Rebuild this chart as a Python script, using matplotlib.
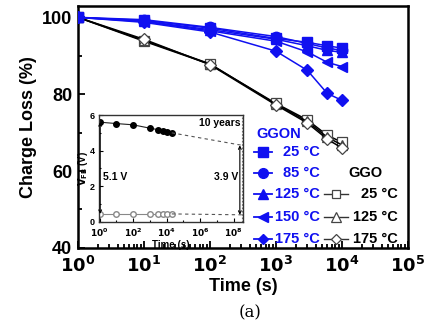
import numpy as np
import matplotlib
matplotlib.use("Agg")
import matplotlib.pyplot as plt
from matplotlib.ticker import LogLocator, MultipleLocator, NullFormatter, FixedLocator

plt.rcParams['font.family'] = ['Liberation Sans', 'DejaVu Sans']

# Retention data: charge remaining vs. bake time
time_s = [1, 10, 100, 1000, 3000, 6000, 10000]

ggon_labels = ['25 °C', '85 °C', '125 °C', '150 °C', '175 °C']
ggon_25 = [100, 99.2, 97.2, 94.5, 93.5, 92.6, 92.0]
ggon_85 = [100, 99.4, 97.4, 95.0, 93.2, 92.0, 91.4]
ggon_125 = [100, 99.0, 96.8, 94.3, 92.6, 91.4, 90.9]
ggon_150 = [100, 98.9, 96.5, 93.8, 91.0, 88.3, 87.2]
ggon_175 = [100, 98.7, 96.2, 91.2, 86.2, 80.2, 78.4]

ggo_labels = ['25 °C', '125 °C', '175 °C']
ggo_25 = [100, 93.8, 87.8, 77.6, 73.3, 69.3, 67.5]
ggo_125 = [100, 94.0, 87.9, 77.4, 72.9, 68.8, 66.8]
ggo_175 = [100, 94.3, 87.7, 77.2, 72.5, 68.3, 66.0]

# Inset: flat-band voltage of programmed / erased states
inset_t = [1, 10, 100, 1000, 3000, 6000, 10000, 20000]
vfb_prog = [5.6, 5.52, 5.45, 5.26, 5.18, 5.11, 5.06, 5.0]
vfb_erase = [0.45, 0.45, 0.45, 0.45, 0.45, 0.45, 0.45, 0.45]
ten_years = 3.15e8
vfb_prog_10y = 4.3
vfb_erase_10y = 0.4

BLUE = '#1010f0'
KEY_FS = 10.5

fig = plt.figure(figsize=(4.28, 3.24), dpi=100)
ax = fig.add_axes([0.182, 0.235, 0.771, 0.747])

ggon_series = [ggon_25, ggon_85, ggon_125, ggon_150, ggon_175]
ggon_markers = ['s', 'o', '^', '<', 'D']
ggon_ms = [7, 7.5, 7.5, 7.5, 6]
for ys, m, ms in zip(ggon_series, ggon_markers, ggon_ms):
    ax.plot(time_s, ys, color=BLUE, marker=m, ms=ms, lw=1.1,
            mfc=BLUE, mec=BLUE, zorder=3)

ggo_series = [ggo_25, ggo_125, ggo_175]
ggo_markers = ['s', '^', 'D']
ggo_ms = [6.5, 7, 6]
for ys, m, ms in zip(ggo_series, ggo_markers, ggo_ms):
    ax.plot(time_s, ys, color='black', marker=m, ms=ms, lw=1.1,
            mfc='white', mec='#444444', mew=0.9, zorder=2)

ax.set_xscale('log')
ax.set_xlim(1, 1e5)
ax.set_ylim(40, 103)
ax.yaxis.set_major_locator(FixedLocator([40, 60, 80, 100]))
ax.yaxis.set_minor_locator(MultipleLocator(10))
ax.xaxis.set_major_locator(FixedLocator([1, 10, 100, 1000, 1e4, 1e5]))
ax.xaxis.set_minor_locator(LogLocator(base=10, subs=np.arange(2, 10), numticks=20))
ax.xaxis.set_minor_formatter(NullFormatter())
ax.set_xticklabels([r'$\mathbf{10^{%d}}$' % k for k in range(6)])
ax.set_yticklabels(['40', '60', '80', '100'])
ax.tick_params(which='both', direction='in', labelsize=13, width=1.3)
ax.tick_params(which='major', length=5)
ax.tick_params(axis='x', which='major', pad=6)
ax.tick_params(axis='y', which='major', pad=4)
ax.tick_params(which='minor', length=3)
for lab in ax.get_yticklabels() + ax.get_xticklabels():
    lab.set_fontweight('bold')
for sp in ax.spines.values():
    sp.set_linewidth(1.8)

ax.set_xlabel('Time (s)', fontsize=13, fontweight='bold', labelpad=1)
ax.set_ylabel('Charge Loss (%)', fontsize=13, fontweight='bold', labelpad=4)
fig.text(0.585, 0.02, '(a)', fontsize=12, family='DejaVu Serif', ha='center')

# Legend-style key drawn inside the axes
fig.text(0.598, 0.585, 'GGON', color=BLUE, fontsize=KEY_FS, fontweight='bold',
         ha='left', va='center')
row_y = [0.530, 0.466, 0.401, 0.331, 0.263]
hx0, hx1 = 0.594, 0.636
for lab, m, ms, yy in zip(ggon_labels, ggon_markers, ggon_ms, row_y):
    fig.add_artist(plt.Line2D([hx0, hx1], [yy, yy], color=BLUE, lw=1.3,
                              transform=fig.transFigure))
    fig.add_artist(plt.Line2D([(hx0 + hx1) / 2], [yy], color=BLUE, marker=m,
                              ms=ms - 0.5, transform=fig.transFigure))
    fig.text(0.748, yy, lab, color=BLUE, fontsize=KEY_FS, fontweight='bold',
             ha='right', va='center')

fig.text(0.813, 0.466, 'GGO', color='black', fontsize=KEY_FS, fontweight='bold',
         ha='left', va='center')
gx0, gx1 = 0.758, 0.812
for lab, m, ms, yy in zip(ggo_labels, ggo_markers, ggo_ms, row_y[2:]):
    fig.add_artist(plt.Line2D([gx0, gx1], [yy, yy], color='#333333', lw=1.0,
                              transform=fig.transFigure))
    fig.add_artist(plt.Line2D([(gx0 + gx1) / 2], [yy], color='#333333', marker=m,
                              ms=ms - 0.5, mfc='white', mec='#444444', mew=0.9,
                              transform=fig.transFigure))
    fig.text(0.930, yy, lab, color='black', fontsize=KEY_FS, fontweight='bold',
             ha='right', va='center')

# Inset: VFB retention extrapolated to ten years
ins = fig.add_axes([0.231, 0.315, 0.337, 0.330])
ins.plot(inset_t, vfb_prog, color='#222222', marker='o', ms=4, lw=0.8,
         mfc='black', mec='black')
ins.plot(inset_t, vfb_erase, color='#888888', marker='o', ms=4, lw=0.8,
         mfc='white', mec='#888888')
ins.plot([inset_t[-1], ten_years], [vfb_prog[-1], vfb_prog_10y],
         ls=(0, (3, 3)), color='#555555', lw=0.8)
ins.plot([inset_t[-1], ten_years], [vfb_erase[-1], vfb_erase_10y],
         ls=(0, (3, 3)), color='#555555', lw=0.8)
ins.plot([ten_years, ten_years], [0, 6], ls=(0, (1.5, 1.5)), color='#777777', lw=0.8)
ins.annotate('', xy=(1.08, vfb_prog[0]), xytext=(1.08, vfb_erase[0]),
             arrowprops=dict(arrowstyle='<->', lw=0.8, color='black',
                             shrinkA=0, shrinkB=0, mutation_scale=5))
ins.annotate('', xy=(2.3e8, vfb_prog_10y), xytext=(2.3e8, vfb_erase_10y),
             arrowprops=dict(arrowstyle='<->', lw=0.8, color='black',
                             shrinkA=0, shrinkB=0, mutation_scale=5))
ins.text(1.6, 2.5, '5.1 V', fontsize=7.5, fontweight='bold', va='center')
ins.text(1.8e8, 2.5, '3.9 V', fontsize=7.5, fontweight='bold', va='center', ha='right')
ins.text(2.6e8, 5.55, '10 years', fontsize=7.5, fontweight='bold', va='center', ha='right')

ins.set_xscale('log')
ins.set_xlim(0.9, 3.6e8)
ins.set_ylim(0, 6)
ins.xaxis.set_major_locator(FixedLocator([1, 1e2, 1e4, 1e6, 1e8]))
ins.xaxis.set_minor_locator(FixedLocator([10, 1e3, 1e5, 1e7]))
ins.xaxis.set_minor_formatter(NullFormatter())
ins.set_xticklabels([r'$\mathbf{10^{%d}}$' % k for k in (0, 2, 4, 6, 8)])
ins.yaxis.set_major_locator(FixedLocator([0, 2, 4, 6]))
ins.yaxis.set_minor_locator(FixedLocator([1, 3, 5]))
ins.tick_params(which='both', direction='in', labelsize=6.5, width=0.8)
ins.tick_params(axis='x', which='major', length=3, pad=3.5)
ins.tick_params(axis='y', which='major', length=3, pad=3)
ins.tick_params(which='minor', length=1.5)
for lab in ins.get_yticklabels():
    lab.set_fontweight('bold')
ins.set_xlabel('Time (s)', fontsize=7, fontweight='bold', labelpad=0.5)
ins.set_ylabel(r'$\mathbf{V_{FB}}$ (V)', fontsize=7, fontweight='bold', labelpad=0)
for sp in ins.spines.values():
    sp.set_linewidth(1.0)
    sp.set_color('#333333')

fig.savefig('out.png', dpi=100)
